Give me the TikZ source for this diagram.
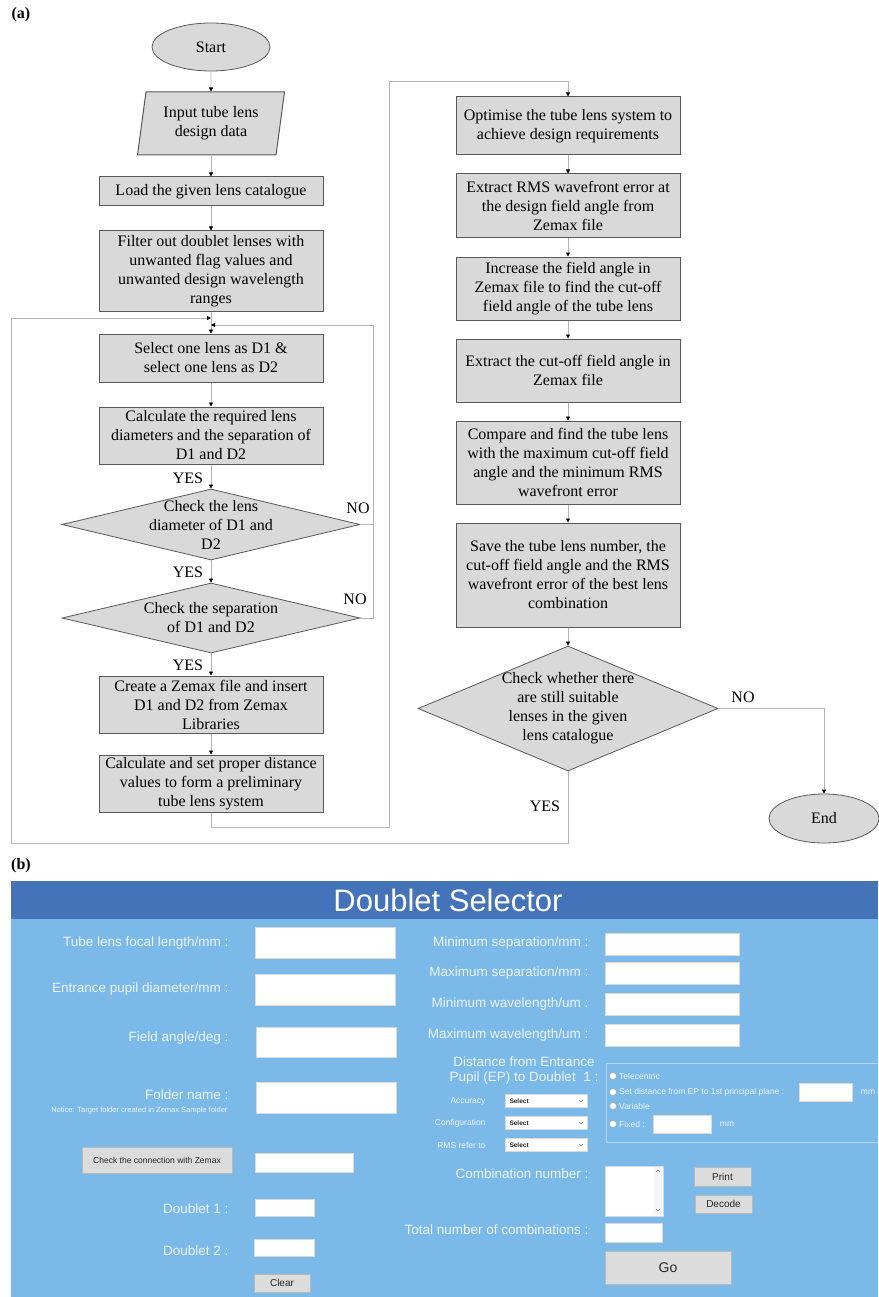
\documentclass[tikz,border=0pt]{standalone}
\usepackage{fontspec}
\setmainfont{Liberation Serif}
\newfontfamily\guifont{Liberation Sans}
\usetikzlibrary{shapes.geometric,arrows.meta}

\definecolor{hdrblue}{RGB}{69,115,185}
\definecolor{panelblue}{RGB}{123,186,232}
\definecolor{guitext}{RGB}{236,243,250}
\definecolor{btngray}{RGB}{220,220,220}
\definecolor{grpline}{RGB}{178,214,242}
\newcommand{\flowfont}{\fontsize{16}{19}\selectfont}

\tikzset{
  proc/.style={rectangle, draw=black!65, line width=1pt, fill=gray!30, minimum width=224pt, align=center, font=\flowfont, inner sep=1pt},
  io/.style={trapezium, trapezium left angle=76.6, trapezium right angle=103.4, trapezium stretches body, draw=black!65, line width=1pt, fill=gray!30, minimum width=147pt, minimum height=63pt, align=center, font=\flowfont, inner sep=1pt},
  term/.style={ellipse, draw=black!65, line width=0.8pt, fill=gray!30, minimum width=118pt, minimum height=48pt, font=\flowfont},
  dec/.style={diamond, draw=black!65, line width=0.8pt, fill=gray!30, inner sep=0pt},
  dectext/.style={align=center, font=\flowfont},
  flow/.style={draw=gray!60, line width=0.8pt, -{Triangle[color=black,length=4pt,width=4pt]}},
  link/.style={draw=gray!60, line width=0.8pt},
  yn/.style={font=\flowfont},
  field/.style={fill=white, draw=white!85!black, line width=0.5pt},
  btn/.style={fill=btngray, draw=gray!55, line width=0.8pt, inner sep=0pt, text=black!85},
  lbl/.style={anchor=east, text=guitext, font=\guifont\fontsize{13.5}{15}\selectfont},
  tinylbl/.style={text=guitext, font=\guifont\fontsize{8.5}{10}\selectfont},
}

\begin{document}
\begin{tikzpicture}[x=1pt,y=-1pt]
\useasboundingbox (0,0) rectangle (878,1297);

% (a) flow chart
\node[font=\flowfont\bfseries] (taga) at (21,15) {(a)};
\node[term] (start) at (211,47) {Start};
\node[io] (inp) at (211,123.5) {Input tube lens\\design data};
\node[proc, minimum height=29pt] (load) at (211,191.5) {Load the given lens catalogue};
\node[proc, minimum height=80pt] (filt) at (211,271) {Filter out doublet lenses with\\unwanted flag values and\\unwanted design wavelength\\ranges};
\node[proc, minimum height=48pt] (sel) at (211,358) {Select one lens as D1 \&\\select one lens as D2};
\node[proc, minimum height=57pt] (calc) at (211,435.5) {Calculate the required lens\\diameters and the separation of\\D1 and D2};
\node[dec, minimum width=298pt, minimum height=71pt] (d1) at (211,524.5) {};
\node[dectext] at (d1) {Check the lens\\diameter of D1 and\\D2};
\node[dec, minimum width=298pt, minimum height=70pt] (d2) at (211,618) {};
\node[dectext] at (d2) {Check the separation\\of D1 and D2};
\node[proc, minimum height=57pt] (create) at (211,704.5) {Create a Zemax file and insert\\D1 and D2 from Zemax\\Libraries};
\node[proc, minimum height=57pt] (cset) at (211,783.5) {Calculate and set proper distance\\values to form a preliminary\\tube lens system};

\node[proc, minimum height=58pt] (opt) at (568,126) {Optimise the tube lens system to\\achieve design requirements};
\node[proc, minimum height=64pt] (exrms) at (568,206) {Extract RMS wavefront error at\\the design field angle from\\Zemax file};
\node[proc, minimum height=63pt] (incr) at (568,288.5) {Increase the field angle in\\Zemax file to find the cut-off\\field angle of the tube lens};
\node[proc, minimum height=63pt] (excut) at (568,370.5) {Extract the cut-off field angle in\\Zemax file};
\node[proc, minimum height=83pt] (comp) at (568,462.5) {Compare and find the tube lens\\with the maximum cut-off field\\angle and the minimum RMS\\wavefront error};
\node[proc, minimum height=104pt] (save) at (568,575) {Save the tube lens number, the\\cut-off field angle and the RMS\\wavefront error of the best lens\\combination};
\node[dec, minimum width=300pt, minimum height=125pt] (d3) at (568,708.5) {};
\node[dectext] at (d3) {Check whether there\\are still suitable\\lenses in the given\\lens catalogue};
\node[term, minimum width=110pt, minimum height=49pt] (end) at (824,818.5) {End};

\coordinate (j1) at (211,318);
\coordinate (j2) at (211,325);
\coordinate (l1) at (11,843);
\coordinate (rl) at (373,325);
\coordinate (m1) at (389,827);
\coordinate (m2) at (389,81);

\draw[flow] (start) -- (inp);
\draw[flow] (inp) -- (load);
\draw[flow] (load) -- (filt);
\draw[flow] (filt) -- (sel);
\draw[flow] (sel) -- (calc);
\draw[flow] (calc) -- (d1);
\draw[flow] (d1) -- (d2);
\draw[flow] (d2) -- (create);
\draw[flow] (create) -- (cset);
\draw[flow] (opt) -- (exrms);
\draw[flow] (exrms) -- (incr);
\draw[flow] (incr) -- (excut);
\draw[flow] (excut) -- (comp);
\draw[flow] (comp) -- (save);
\draw[flow] (save) -- (d3);
\draw[flow] (d3.south) |- (l1) |- (j1);
\draw[flow] (d2.east) -| (rl) -- (j2);
\draw[link] (d1.east) -- (d1.east -| rl);
\draw[flow] (cset.south) |- (m1) -- (m2) -| (opt.north);
\draw[flow] (d3.east) -| (end.north);

\node[yn] at (188,478) {YES};
\node[yn] at (188,572) {YES};
\node[yn] at (188,665) {YES};
\node[yn] at (358,508) {NO};
\node[yn] at (355,599) {NO};
\node[yn] at (743,697) {NO};
\node[yn] at (545,806) {YES};

% (b) user interface
\node[font=\flowfont\bfseries] (tagb) at (21,866) {(b)};
\fill[panelblue] (11,881) rectangle (878,1297);
\fill[hdrblue] (11,881) rectangle (878,919);
\node[text=white, font=\guifont\fontsize{31}{33}\selectfont] (title) at (448,900) {Doublet Selector};

\node[lbl] at (232,943) {Tube lens focal length/mm :};
\draw[field] (255,927) rectangle (395,958);
\node[lbl] at (232,989) {Entrance pupil diameter/mm :};
\draw[field] (255,974) rectangle (395,1005);
\node[lbl] at (232,1038) {Field angle/deg :};
\draw[field] (256,1027) rectangle (396,1057);
\node[lbl] at (232,1095) {Folder name :};
\node[tinylbl, anchor=east, font=\guifont\fontsize{7.5}{9}\selectfont] at (231,1111) {Notice: Target folder created in Zemax Sample folder};
\draw[field] (256,1082) rectangle (396,1113);
\node[btn, minimum width=150pt, minimum height=26pt, font=\guifont\fontsize{8.5}{10}\selectfont] (chk) at (157,1160) {Check the connection with Zemax};
\draw[field] (255,1153) rectangle (353,1172);
\node[lbl] at (232,1209) {Doublet 1 :};
\draw[field] (255,1199) rectangle (314,1216);
\node[lbl] at (232,1251) {Doublet 2 :};
\draw[field] (254,1239) rectangle (314,1256);
\node[btn, minimum width=56pt, minimum height=18pt, font=\guifont\fontsize{10}{12}\selectfont] (clear) at (282,1283) {Clear};

\node[lbl] at (592,943) {Minimum separation/mm :};
\draw[field] (605,933) rectangle (739,955);
\node[lbl] at (592,973) {Maximum separation/mm :};
\draw[field] (605,962) rectangle (739,984);
\node[lbl] at (592,1004) {Minimum wavelength/um :};
\draw[field] (605,993) rectangle (739,1015);
\node[lbl] at (592,1035) {Maximum wavelength/um :};
\draw[field] (605,1024) rectangle (739,1046);
\node[lbl, anchor=center, align=center] at (524,1070) {Distance from Entrance\\Pupil (EP) to Doublet\ \ 1 :};

\foreach \y/\t in {1101/Accuracy, 1123/Configuration, 1145/RMS refer to}{
  \node[tinylbl, anchor=east] at (489,\y) {\t};
  \draw[field] (505,\y-6.5) rectangle (587,\y+6.5);
  \node[anchor=west, font=\guifont\bfseries\fontsize{6.5}{8}\selectfont, text=black!85] at (506,\y) {Select};
  \draw[gray, line width=0.4pt] (579,\y-1) -- (581,\y+1) -- (583,\y-1);
}

\draw[grpline, line width=0.8pt] (878,1063) -- (606,1063) -- (606,1142) -- (878,1142);
\foreach \y/\t in {1076/Telecentric, 1092/Set distance from EP to 1st principal plane :, 1106/Variable, 1124/Fixed :}{
  \draw[fill=white, draw=gray!70, line width=0.5pt] (613,\y) circle (3.5);
  \node[tinylbl, anchor=west, inner sep=1pt] at (618,\y) {\t};
}
\draw[field] (799,1083) rectangle (852,1101);
\node[tinylbl] at (868,1092) {mm};
\draw[field] (653,1115) rectangle (711,1133);
\node[tinylbl] at (727,1124) {mm};

\node[lbl] at (592,1174) {Combination number :};
\draw[field] (605,1166) rectangle (663,1216);
\fill[gray!8] (654,1167) rectangle (662,1215);
\draw[gray, line width=0.4pt] (656,1172) -- (658,1170) -- (660,1172);
\draw[gray, line width=0.4pt] (656,1209) -- (658,1211) -- (660,1209);
\node[btn, minimum width=57pt, minimum height=19pt, font=\guifont\fontsize{10}{12}\selectfont] (print) at (722.5,1176.5) {Print};
\node[btn, minimum width=57pt, minimum height=18pt, font=\guifont\fontsize{10}{12}\selectfont] (decode) at (723.5,1204) {Decode};
\node[lbl] at (592,1230) {Total number of combinations :};
\draw[field] (605,1223) rectangle (662,1242);
\node[btn, minimum width=126pt, minimum height=33pt, font=\guifont\fontsize{14}{16}\selectfont] (go) at (668,1267.5) {Go};
\end{tikzpicture}
\end{document}
